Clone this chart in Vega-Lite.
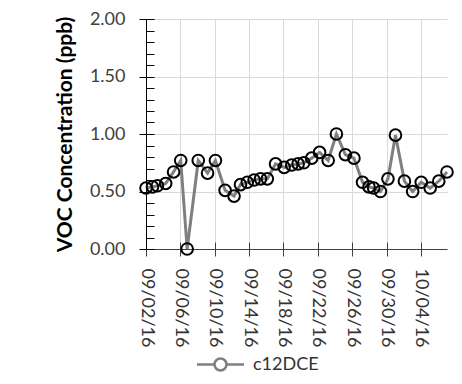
{
  "$schema": "https://vega.github.io/schema/vega-lite/v6.json",
  "width": 301,
  "height": 230,
  "padding": {"left": 54, "top": 10, "right": 17, "bottom": 2},
  "background": "white",
  "config": {
    "font": "Lato",
    "view": {"stroke": null},
    "axis": {"labelFont": "Lato", "titleFont": "Lato"},
    "legend": {"labelFont": "Lato"}
  },
  "data": {
    "values": [
      {"t": "2016-09-02T00:00:00", "v": 0.53, "s": "c12DCE"},
      {"t": "2016-09-02T18:00:00", "v": 0.54, "s": "c12DCE"},
      {"t": "2016-09-03T08:00:00", "v": 0.55, "s": "c12DCE"},
      {"t": "2016-09-04T07:00:00", "v": 0.57, "s": "c12DCE"},
      {"t": "2016-09-05T05:00:00", "v": 0.67, "s": "c12DCE"},
      {"t": "2016-09-06T01:00:00", "v": 0.77, "s": "c12DCE"},
      {"t": "2016-09-06T19:00:00", "v": 0.0, "s": "c12DCE"},
      {"t": "2016-09-08T02:00:00", "v": 0.77, "s": "c12DCE"},
      {"t": "2016-09-09T04:00:00", "v": 0.66, "s": "c12DCE"},
      {"t": "2016-09-10T02:00:00", "v": 0.77, "s": "c12DCE"},
      {"t": "2016-09-11T05:00:00", "v": 0.51, "s": "c12DCE"},
      {"t": "2016-09-12T06:00:00", "v": 0.46, "s": "c12DCE"},
      {"t": "2016-09-13T00:00:00", "v": 0.56, "s": "c12DCE"},
      {"t": "2016-09-13T19:00:00", "v": 0.58, "s": "c12DCE"},
      {"t": "2016-09-14T14:00:00", "v": 0.60, "s": "c12DCE"},
      {"t": "2016-09-15T08:00:00", "v": 0.61, "s": "c12DCE"},
      {"t": "2016-09-16T03:00:00", "v": 0.61, "s": "c12DCE"},
      {"t": "2016-09-17T02:00:00", "v": 0.74, "s": "c12DCE"},
      {"t": "2016-09-18T02:00:00", "v": 0.71, "s": "c12DCE"},
      {"t": "2016-09-18T23:00:00", "v": 0.73, "s": "c12DCE"},
      {"t": "2016-09-19T17:00:00", "v": 0.74, "s": "c12DCE"},
      {"t": "2016-09-20T09:00:00", "v": 0.75, "s": "c12DCE"},
      {"t": "2016-09-21T07:00:00", "v": 0.79, "s": "c12DCE"},
      {"t": "2016-09-22T05:00:00", "v": 0.84, "s": "c12DCE"},
      {"t": "2016-09-23T05:00:00", "v": 0.77, "s": "c12DCE"},
      {"t": "2016-09-24T04:00:00", "v": 1.0, "s": "c12DCE"},
      {"t": "2016-09-25T05:00:00", "v": 0.82, "s": "c12DCE"},
      {"t": "2016-09-26T05:00:00", "v": 0.79, "s": "c12DCE"},
      {"t": "2016-09-27T05:00:00", "v": 0.58, "s": "c12DCE"},
      {"t": "2016-09-27T23:00:00", "v": 0.54, "s": "c12DCE"},
      {"t": "2016-09-28T12:00:00", "v": 0.53, "s": "c12DCE"},
      {"t": "2016-09-29T07:00:00", "v": 0.50, "s": "c12DCE"},
      {"t": "2016-09-30T04:00:00", "v": 0.61, "s": "c12DCE"},
      {"t": "2016-10-01T01:00:00", "v": 0.99, "s": "c12DCE"},
      {"t": "2016-10-02T02:00:00", "v": 0.59, "s": "c12DCE"},
      {"t": "2016-10-03T01:00:00", "v": 0.50, "s": "c12DCE"},
      {"t": "2016-10-04T01:00:00", "v": 0.58, "s": "c12DCE"},
      {"t": "2016-10-05T02:00:00", "v": 0.53, "s": "c12DCE"},
      {"t": "2016-10-06T02:00:00", "v": 0.59, "s": "c12DCE"},
      {"t": "2016-10-07T01:00:00", "v": 0.67, "s": "c12DCE"}
    ]
  },
  "resolve": {"axis": {"x": "independent", "y": "independent"}},
  "layer": [
    {
      "mark": {"type": "line", "strokeWidth": 3},
      "encoding": {
        "x": {
          "field": "t", "type": "temporal",
          "scale": {"domain": [{"year": 2016, "month": 9, "date": 2}, {"year": 2016, "month": 10, "date": 7, "hours": 1}]},
          "axis": {
            "orient": "bottom",
            "title": null,
            "values": [
              {"year": 2016, "month": 9, "date": 2},
              {"year": 2016, "month": 9, "date": 6},
              {"year": 2016, "month": 9, "date": 10},
              {"year": 2016, "month": 9, "date": 14},
              {"year": 2016, "month": 9, "date": 18},
              {"year": 2016, "month": 9, "date": 22},
              {"year": 2016, "month": 9, "date": 26},
              {"year": 2016, "month": 9, "date": 30},
              {"year": 2016, "month": 10, "date": 4}
            ],
            "format": "%m/%d/%y",
            "labelAngle": 90,
            "labelAlign": "left",
            "labelBaseline": "middle",
            "labelFontSize": 18,
            "labelColor": "#333333",
            "labelPadding": 12,
            "labelFlush": false,
            "labelOverlap": false,
            "tickSize": 7,
            "tickColor": "#404040",
            "tickWidth": 1,
            "domainColor": "#404040",
            "domainWidth": 1,
            "grid": true,
            "gridColor": "#d9d9d9",
            "gridWidth": 1
          }
        },
        "y": {
          "field": "v", "type": "quantitative",
          "scale": {"domain": [0, 2], "nice": false},
          "axis": {
            "orient": "left",
            "title": "VOC Concentration (ppb)",
            "titleFontSize": 21,
            "titleFontWeight": "bold",
            "titleColor": "#000000",
            "titlePadding": 14,
            "values": [0, 0.5, 1, 1.5, 2],
            "format": ".2f",
            "labelFontSize": 18,
            "labelColor": "#404040",
            "labelPadding": 14,
            "tickSize": 7,
            "tickColor": "#000000",
            "domainColor": "#000000",
            "grid": true,
            "gridColor": "#d9d9d9",
            "gridWidth": 1
          }
        },
        "color": {
          "field": "s", "type": "nominal",
          "scale": {"range": ["#7f7f7f"]},
          "legend": {
            "orient": "none",
            "legendX": 63,
            "legendY": 334,
            "title": null,
            "labelFontSize": 18,
            "labelColor": "#333333",
            "labelOffset": 21,
            "symbolType": "M-2.35,0L-0.6,0M0.6,0L2.35,0M0.6,0A0.6,0.6,0,1,1,-0.6,0A0.6,0.6,0,1,1,0.6,0",
            "symbolSize": 400,
            "symbolStrokeWidth": 2.5,
            "symbolStrokeColor": "#333333"
          }
        }
      }
    },
    {
      "mark": {"type": "point", "shape": "circle", "filled": false, "color": "#000000", "strokeWidth": 2, "size": 135, "opacity": 1},
      "encoding": {
        "x": {
          "field": "t", "type": "temporal",
          "axis": {
            "orient": "top",
            "offset": -230,
            "title": null,
            "labels": false,
            "domain": false,
            "grid": false,
            "values": [
              {"year": 2016, "month": 9, "date": 2},
              {"year": 2016, "month": 9, "date": 6},
              {"year": 2016, "month": 9, "date": 10},
              {"year": 2016, "month": 9, "date": 14},
              {"year": 2016, "month": 9, "date": 18},
              {"year": 2016, "month": 9, "date": 22},
              {"year": 2016, "month": 9, "date": 26},
              {"year": 2016, "month": 9, "date": 30},
              {"year": 2016, "month": 10, "date": 4}
            ],
            "tickSize": 7,
            "tickColor": "#404040"
          }
        },
        "y": {
          "field": "v", "type": "quantitative",
          "axis": {
            "orient": "right",
            "offset": -301,
            "title": null,
            "labels": false,
            "domain": false,
            "grid": false,
            "values": [0, 0.1, 0.2, 0.3, 0.4, 0.5, 0.6, 0.7, 0.8, 0.9, 1, 1.1, 1.2, 1.3, 1.4, 1.5, 1.6, 1.7, 1.8, 1.9, 2],
            "tickSize": 8,
            "tickColor": "#000000"
          }
        }
      }
    }
  ]
}
